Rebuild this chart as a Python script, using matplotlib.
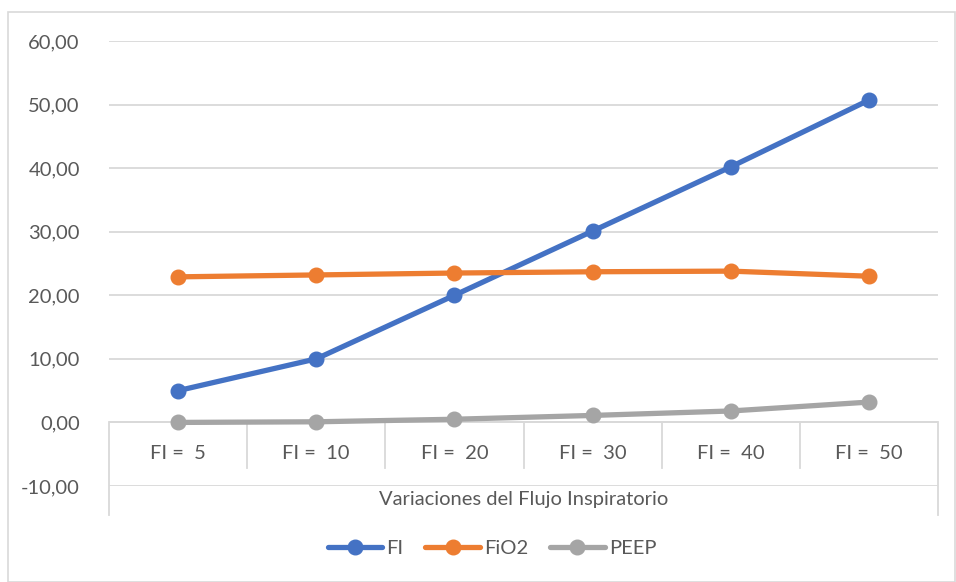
import matplotlib.pyplot as plt
from matplotlib.lines import Line2D
from matplotlib.patches import Rectangle

plt.rcParams['font.family'] = ['Lato', 'DejaVu Sans']

categories = ["FI =  5", "FI =  10", "FI =  20", "FI =  30", "FI =  40", "FI =  50"]
fi = [5.0, 10.0, 20.0, 30.1, 40.2, 50.7]
fio2 = [22.9, 23.2, 23.5, 23.7, 23.8, 23.0]
peep = [0.0, 0.1, 0.5, 1.1, 1.8, 3.2]
series_names = ["FI", "FiO2", "PEEP"]
colors = ["#4472C4", "#ED7D31", "#A5A5A5"]
y_ticks = [-10, 0, 10, 20, 30, 40, 50, 60]
x_title = "Variaciones del Flujo Inspiratorio"

W, H = 956, 582
text_color = "#595959"
grid_color = "#D9D9D9"
fs = 14.5

fig = plt.figure(figsize=(W / 100, H / 100), dpi=100)
# chart border
fig.patches.append(Rectangle((8 / W, 0), (W - 9) / W, (H - 12) / H, transform=fig.transFigure,
                             fill=False, edgecolor=grid_color, linewidth=1.2))

left, right, top, bottom = 109, 938, 41, 486
ax = fig.add_axes([left / W, (H - bottom) / H, (right - left) / W, (bottom - top) / H])
ax.set_xlim(-0.5, len(categories) - 0.5)
ax.set_ylim(-10, 60)
for s in ax.spines.values():
    s.set_visible(False)
ax.set_xticks([])
ax.set_yticks(y_ticks)
ax.set_yticklabels([f"{v:.2f}".replace(".", ",") for v in y_ticks])
ax.tick_params(axis="y", length=0, pad=21, labelsize=fs, labelcolor=text_color)
for v in y_ticks:
    ax.axhline(v, color=grid_color, linewidth=1.3, zorder=0)

# category axis at zero with separators
ax.axhline(0, color=grid_color, linewidth=1.3, zorder=1)
per_px = 70 / (bottom - top)
for i in range(1, len(categories)):
    ax.plot([i - 0.5, i - 0.5], [0, -(468 - 422) * per_px], color=grid_color, lw=1.3, zorder=1)
for xe in (-0.5, len(categories) - 0.5):
    ax.plot([xe, xe], [0, -(515 - 422) * per_px], color=grid_color, lw=1.3, zorder=1, clip_on=False)
for i, c in enumerate(categories):
    ax.text(i, -(453 - 422) * per_px, c, ha="center", va="center", fontsize=fs, color=text_color)
ax.text((len(categories) - 1) / 2, -(499 - 422) * per_px, x_title, ha="center", va="center",
        fontsize=fs, color=text_color, clip_on=False)

x = list(range(len(categories)))
for vals, name, col in zip([fi, fio2, peep], series_names, colors):
    ax.plot(x, vals, color=col, linewidth=3.8, marker="o", markersize=10.5,
            solid_capstyle="round", label=name, zorder=3, clip_on=False)

handles = [Line2D([], [], color=c, lw=3.8, marker="o", markersize=10.5, solid_capstyle="round")
           for c in colors]
fig.legend(handles, series_names, loc="center", bbox_to_anchor=(492 / W, (H - 548) / H),
           ncol=3, frameon=False, fontsize=fs, labelcolor=text_color,
           handlelength=2.7, handletextpad=0.2, columnspacing=1.1)

fig.savefig("out.png", dpi=100)
